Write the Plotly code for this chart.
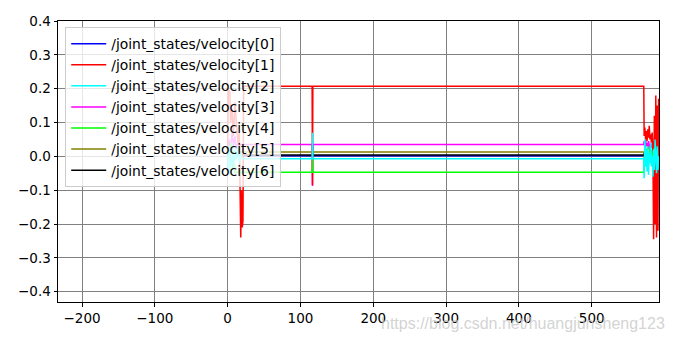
import plotly.graph_objects as go

# ---- data ----
names = ["/joint_states/velocity[0]", "/joint_states/velocity[1]", "/joint_states/velocity[2]",
         "/joint_states/velocity[3]", "/joint_states/velocity[4]", "/joint_states/velocity[5]",
         "/joint_states/velocity[6]"]
colors = ["#0000ff", "#ff0000", "#00ffff", "#ff00ff", "#00ff00", "#808000", "#000000"]

x0 = [0, 2, 4, 6, 8, 10, 12, 14, 16, 18, 20, 22, 571.5, 572, 574, 576, 578, 580, 582, 584, 586, 588, 590, 591.8]
y0 = [0.0, 0.02, -0.01, 0.015, 0.005, -0.005, 0.01, 0.0, 0.002, 0.002, 0.002, 0.002,
      0.002, 0.01, -0.01, 0.015, -0.005, 0.005, -0.012, 0.008, 0.0, -0.008, 0.004, 0.0]

x1 = [0, 1, 3, 4, 6, 8, 10, 12, 14, 16, 17, 18, 19, 20, 21, 22,
      116, 116.5, 117, 571.5,
      572, 573, 574, 575, 576, 577, 578, 579, 580, 581, 582, 583, 584, 585, 586, 587, 588, 589, 590, 591,
      591.8]
y1 = [0.03, 0.2, 0.19, 0.1, 0.14, 0.06, 0.16, 0.08, 0.04, 0.07, -0.07, -0.24, -0.1, -0.21, -0.19, 0.207,
      0.207, -0.085, 0.207, 0.207,
      0.06, 0.085, 0.05, 0.075, 0.045, 0.08, 0.055, 0.09, 0.05, 0.065, 0.04, 0.07, 0.03, -0.245, 0.12, -0.2,
      0.18, -0.24, 0.15, -0.22,
      0.17]

x2 = [0, 1, 2, 3, 4, 5, 6, 7, 8, 9, 10, 12, 14, 16, 18, 20, 22,
      116, 116.5, 117, 571.5,
      572, 573, 574, 575, 576, 577, 578, 579, 580, 581, 582, 583, 584, 585, 586, 587, 588, 589, 590, 591,
      591.8]
y2 = [0.0, -0.05, 0.03, -0.055, 0.02, -0.03, 0.04, -0.02, 0.01, -0.04, 0.02, -0.01, 0.03, -0.02, 0.01, -0.007, -0.007,
      -0.007, 0.07, -0.007, -0.007,
      -0.065, 0.05, -0.03, 0.02, -0.045, 0.03, -0.055, 0.01, -0.02, 0.04, -0.03, 0.0, -0.06, 0.02, -0.04, 0.05,
      -0.01, -0.05, 0.03, -0.04,
      0.0]

x3 = [0, 2, 4, 6, 8, 10, 12, 14, 16, 18, 20, 22,
      116, 116.5, 117, 571.5,
      572, 573, 574, 575, 576, 577, 578, 579, 580, 581, 582, 583, 584, 585, 586, 587, 588, 589, 590, 591,
      591.8]
y3 = [0.0, 0.05, 0.02, 0.07, 0.03, 0.06, 0.02, 0.04, 0.03, 0.035, 0.035, 0.035,
      0.035, -0.088, 0.035, 0.035,
      0.045, 0.025, 0.05, 0.03, 0.04, 0.02, 0.045, 0.03, 0.015, 0.04, 0.025, 0.035, 0.02, 0.03, 0.01, 0.025,
      0.005, 0.02, 0.01, 0.015,
      0.01]

x4 = [0, 1, 2, 3, 4, 5, 6, 7, 8, 9, 10, 12, 14, 16, 18, 20, 22,
      116, 116.5, 117, 571.5,
      572, 573, 574, 575, 576, 577, 578, 579, 580, 581, 582, 583, 584, 585, 586, 587, 588, 589, 590, 591,
      591.8]
y4 = [0.0, -0.02, 0.03, -0.01, 0.04, -0.03, 0.02, -0.04, 0.01, -0.02, -0.047, -0.047, -0.047, -0.047, -0.047,
      -0.047, -0.047,
      -0.047, -0.005, -0.047, -0.047,
      0.0, -0.03, 0.02, -0.01, 0.025, -0.02, 0.01, -0.005, 0.03, -0.015, 0.02, 0.0, -0.01, 0.015, 0.025, -0.005,
      0.01, -0.02, 0.005, -0.01,
      0.0]

x5 = [0, 2, 4, 6, 8, 10, 12, 14, 16, 18, 20, 22,
      571.5, 572, 573, 574, 575, 576, 577, 578, 579, 580, 582, 584, 586, 588, 590, 591.8]
y5 = [0.0, 0.01, -0.01, 0.02, 0.0, 0.015, 0.005, 0.013, 0.013, 0.013, 0.013, 0.013,
      0.013, 0.005, -0.01, 0.0, -0.015, 0.01, -0.005, -0.017, 0.0, -0.012, 0.005, -0.008, 0.002, -0.005, 0.0,
      -0.003]

x6 = [0, 2, 4, 6, 8, 10, 12, 14, 16, 18, 20, 22, 571.5, 572, 574, 576, 578, 580, 582, 584, 586, 588, 590, 591.8]
y6 = [0.0, -0.01, 0.01, 0.0, 0.005, 0.004, 0.004, 0.004, 0.004, 0.004, 0.004, 0.004,
      0.004, 0.0, 0.008, -0.004, 0.006, 0.0, 0.003, -0.002, 0.005, 0.0, 0.002, 0.0]

xs = [x0, x1, x2, x3, x4, x5, x6]
ys = [y0, y1, y2, y3, y4, y5, y6]

x_ticks = [-200, -100, 0, 100, 200, 300, 400, 500]
y_ticks = [-0.4, -0.3, -0.2, -0.1, 0.0, 0.1, 0.2, 0.3, 0.4]
watermark = "https://blog.csdn.net/huangjunsheng123"

# drawing order (bottom -> top) as seen in the reference
draw_order = [3, 0, 5, 6, 1, 4, 2]

fig = go.Figure()
for i in draw_order:
    assert len(xs[i]) == len(ys[i])
    fig.add_trace(go.Scatter(x=xs[i], y=ys[i], mode="lines", name=names[i],
                             line=dict(color=colors[i], width=1.5), legendrank=i + 1))

axis_common = dict(showgrid=True, gridcolor="#808080", gridwidth=1, showline=True, linecolor="black",
                   linewidth=1, mirror=True, ticks="outside", ticklen=3.5, tickcolor="black",
                   zeroline=False, tickfont=dict(size=13.5, color="black"))
fig.update_xaxes(range=[-233, 592.4], tickvals=x_ticks, **axis_common)
fig.update_yaxes(range=[-0.4305, 0.4], tickvals=y_ticks, tickformat=".1f", **axis_common)

fig.update_layout(
    width=676, height=341,
    margin=dict(l=58, r=17, t=21, b=39),
    plot_bgcolor="white", paper_bgcolor="white",
    font=dict(family="DejaVu Sans", size=13.5, color="black"),
    legend=dict(x=0.012, y=0.978, xanchor="left", yanchor="top",
                bgcolor="rgba(255,255,255,0.8)", bordercolor="#cccccc", borderwidth=1,
                itemwidth=35, font=dict(size=13.9)),
    showlegend=True,
)
fig.add_annotation(text=watermark, xref="paper", yref="paper", x=1.013, y=-0.075,
                   xanchor="right", yanchor="middle", showarrow=False,
                   font=dict(family="Liberation Sans", size=16, color="rgba(200,200,200,0.8)"))

fig.write_html("out.html")
